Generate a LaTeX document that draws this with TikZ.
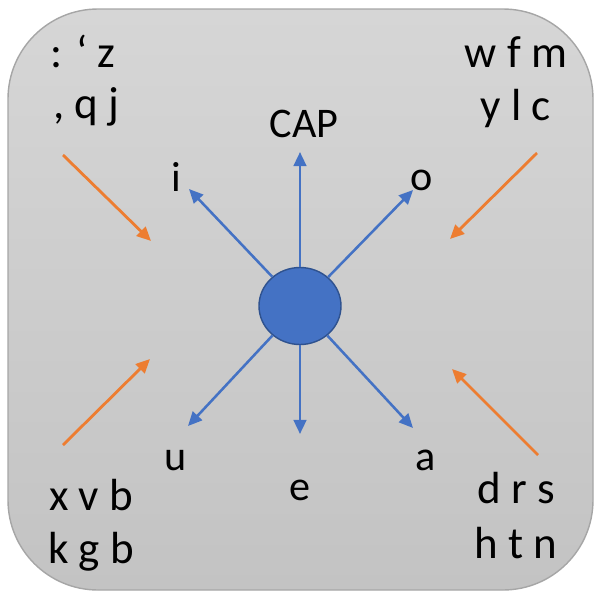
\documentclass[tikz,border=0pt]{standalone}
\usepackage{fontspec}
\setmainfont{Carlito}
\usepackage{xcolor}
\usetikzlibrary{arrows.meta,shapes.geometric}
\definecolor{panel}{HTML}{A6A6A6}
\definecolor{paneltop}{HTML}{D6D6D6}
\definecolor{panelbot}{HTML}{C3C3C3}
\definecolor{hub}{HTML}{4472C4}
\definecolor{hubline}{HTML}{2F528F}
\definecolor{feed}{HTML}{ED7D31}
\tikzset{
  spoke/.style={draw=hub, line width=1.8pt, -{Triangle[length=10pt,width=9pt]}},
  inflow/.style={draw=feed, line width=2pt, -{Triangle[length=10pt,width=9pt]}},
  vowel/.style={anchor=base, inner sep=0pt, font=\fontsize{30}{36}\selectfont},
  group/.style={anchor=base, inner sep=0pt, font=\fontsize{32}{38}\selectfont},
  every node/.style={text=black}
}

\begin{document}
\begin{tikzpicture}[x=0.025cm, y=-0.025cm]
  \useasboundingbox (0,0) rectangle (600,600);
  \shade[top color=paneltop, bottom color=panelbot, draw=panel, line width=1pt,
    rounded corners=90*0.025cm] (8,9) rectangle (593,590);

  \node[ellipse, fill=hub, draw=hubline, line width=1pt,
    minimum width=82*0.025cm, minimum height=77*0.025cm, inner sep=0pt] (ctr) at (300,306) {};

  % spoke tips
  \coordinate (tcap) at (300,152);
  \coordinate (ti) at (189,189);
  \coordinate (to) at (413,190);
  \coordinate (tu) at (188,426);
  \coordinate (te) at (300,434);
  \coordinate (ta) at (413,428);

  \draw[spoke] (ctr) -- (tcap);
  \draw[spoke] (ctr) -- (ti);
  \draw[spoke] (ctr) -- (to);
  \draw[spoke] (ctr) -- (tu);
  \draw[spoke] (ctr) -- (te);
  \draw[spoke] (ctr) -- (ta);

  \node[vowel] (cap) at (304,137) {CAP};
  \node[vowel] (i) at (176,191) {i};
  \node[vowel] (o) at (422,190) {o};
  \node[vowel] (u) at (176,470) {u};
  \node[vowel] (e) at (300,500) {e};
  \node[vowel] (a) at (426,470) {a};

  % inflow arrows
  \coordinate (nw0) at (63,155);  \coordinate (nw1) at (151,241);
  \coordinate (ne0) at (537,153); \coordinate (ne1) at (450,239);
  \coordinate (sw0) at (63,445);  \coordinate (sw1) at (150,359);
  \coordinate (se0) at (538,455); \coordinate (se1) at (452,369);
  \draw[inflow] (nw0) -- (nw1);
  \draw[inflow] (ne0) -- (ne1);
  \draw[inflow] (sw0) -- (sw1);
  \draw[inflow] (se0) -- (se1);

  \node[group] (nwa) at (83,67) {: ‘ z};
  \node[group] (nwb) at (86,118) {, q j};
  \node[group] (nea) at (516,67) {w f m};
  \node[group] (neb) at (516,120) {y l c};
  \node[group] (swa) at (91,510) {x v b};
  \node[group] (swb) at (91,563) {k g b};
  \node[group] (sea) at (516,503) {d r s};
  \node[group] (seb) at (516,558) {h t n};
\end{tikzpicture}
\end{document}
